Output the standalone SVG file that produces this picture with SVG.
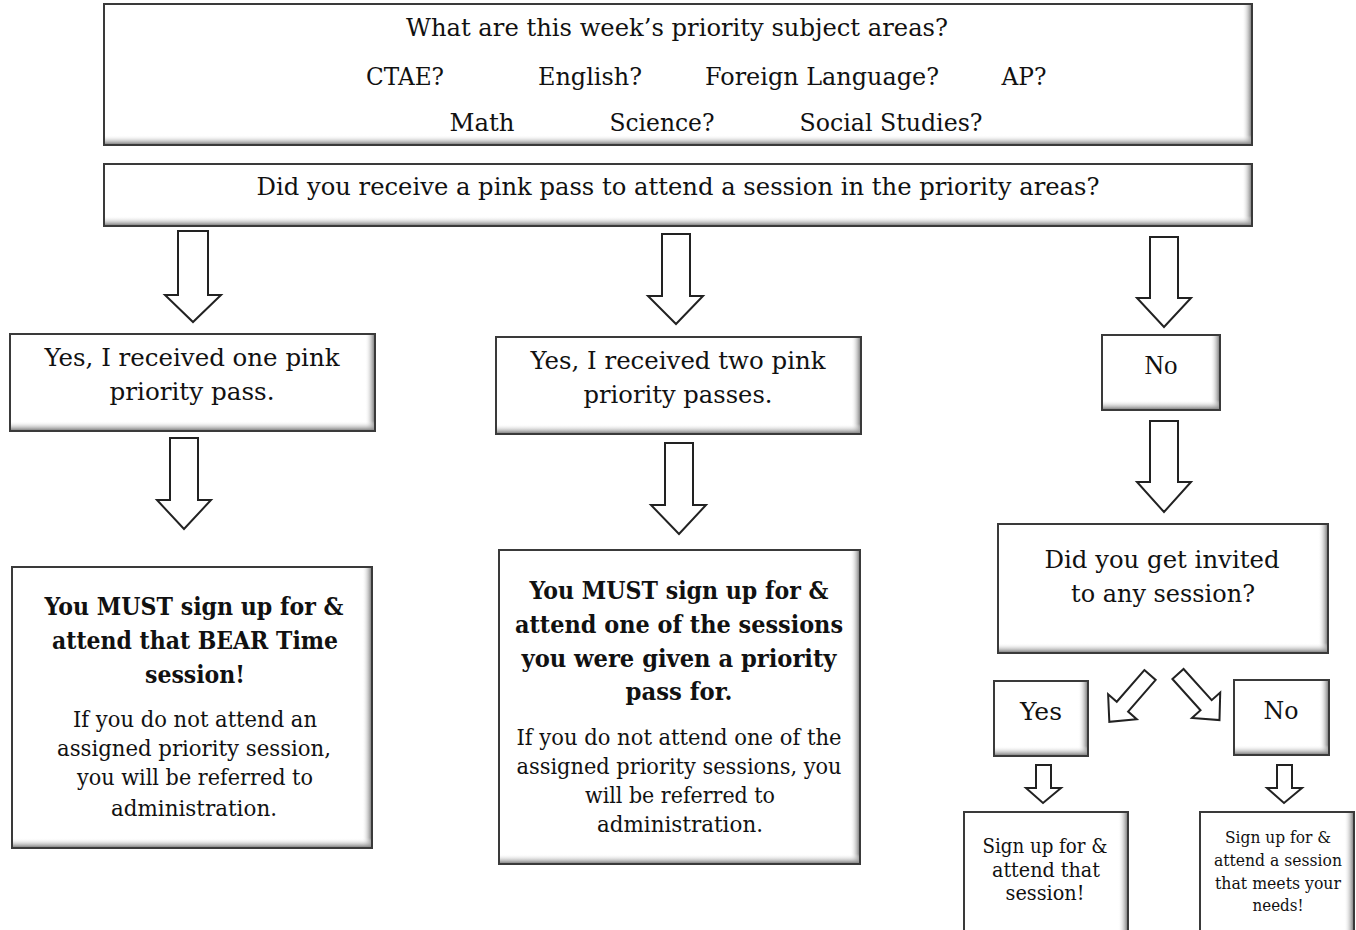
<svg xmlns="http://www.w3.org/2000/svg" width="1356" height="930" viewBox="0 0 1356 930">
<style>
.box{fill:#fff;stroke:#3a3a3a;stroke-width:2}
.t{font-family:"DejaVu Serif","Liberation Serif",serif;fill:#111;text-anchor:middle}
.b{font-weight:bold}
.tm{font-family:"Liberation Serif","Times New Roman",serif;fill:#111;text-anchor:middle}
.arr{fill:#fff;stroke:#222;stroke-width:2;stroke-linejoin:miter}
</style>
<defs>
<linearGradient id="gr" x1="0" y1="0" x2="1" y2="0">
<stop offset="0" stop-color="#fff" stop-opacity="0"/>
<stop offset="1" stop-color="#888"/>
</linearGradient>
<linearGradient id="gb" x1="0" y1="0" x2="0" y2="1">
<stop offset="0" stop-color="#fff" stop-opacity="0"/>
<stop offset="1" stop-color="#888"/>
</linearGradient>
<polygon id="darr" points="-7.5,0 7.5,0 7.5,42 19,42 0,62 -19,42 -7.5,42"/>
</defs>
<rect width="1356" height="930" fill="#fff"/>

<g id="connectors">
<polygon class="arr" points="178,231 208,231 208,295 221,295 193,322 165,295 178,295"/>
<polygon class="arr" points="170,438 198,438 198,500 211,500 184,529 157,500 170,500"/>
<polygon class="arr" points="662,234 690,234 690,296 703,296 676,324 648,296 662,296"/>
<polygon class="arr" points="665,443 693,443 693,505 706,505 679,534 651,505 665,505"/>
<polygon class="arr" points="1150,237 1178,237 1178,298 1191,298 1164,327 1137,298 1150,298"/>
<polygon class="arr" points="1150,421 1178,421 1178,482 1191,482 1164,512 1137,482 1150,482"/>
<polygon class="arr" points="1036,765 1051,765 1051,788 1061,788 1043,803 1026,788 1036,788"/>
<polygon class="arr" points="1277,765 1292,765 1292,788 1302,788 1284,803 1267,788 1277,788"/>
<use href="#darr" class="arr" transform="translate(1150,675) rotate(41)"/>
<use href="#darr" class="arr" transform="translate(1178,674) rotate(-42)"/>
</g>

<g id="n-subjects">
<rect class="box" x="104" y="4" width="1148" height="141"/>
<rect x="1242" y="5" width="9" height="139" fill="url(#gr)"/>
<rect x="105" y="135" width="1146" height="9" fill="url(#gb)"/>
<text class="t" x="677" y="36" font-size="25" textLength="542" lengthAdjust="spacingAndGlyphs">What are this week’s priority subject areas?</text>
<text class="t" x="405" y="85" font-size="25" textLength="78" lengthAdjust="spacingAndGlyphs">CTAE?</text>
<text class="t" x="590" y="85" font-size="25" textLength="104" lengthAdjust="spacingAndGlyphs">English?</text>
<text class="t" x="822" y="85" font-size="25" textLength="234" lengthAdjust="spacingAndGlyphs">Foreign Language?</text>
<text class="t" x="1024" y="85" font-size="25" textLength="45" lengthAdjust="spacingAndGlyphs">AP?</text>
<text class="t" x="482" y="131" font-size="25" textLength="65" lengthAdjust="spacingAndGlyphs">Math</text>
<text class="t" x="662" y="131" font-size="25" textLength="105" lengthAdjust="spacingAndGlyphs">Science?</text>
<text class="t" x="891" y="131" font-size="25" textLength="183" lengthAdjust="spacingAndGlyphs">Social Studies?</text>
</g>

<g id="n-pinkpass">
<rect class="box" x="104" y="164" width="1148" height="62"/>
<rect x="1242" y="165" width="9" height="60" fill="url(#gr)"/>
<rect x="105" y="216" width="1146" height="9" fill="url(#gb)"/>
<text class="t" x="678" y="195" font-size="25" textLength="843" lengthAdjust="spacingAndGlyphs">Did you receive a pink pass to attend a session in the priority areas?</text>
</g>

<g id="n-one">
<rect class="box" x="10" y="334" width="365" height="97"/>
<rect x="365" y="335" width="9" height="95" fill="url(#gr)"/>
<rect x="11" y="421" width="363" height="9" fill="url(#gb)"/>
<text class="t" x="192" y="366" font-size="25" textLength="295" lengthAdjust="spacingAndGlyphs">Yes, I received one pink</text>
<text class="t" x="192" y="400" font-size="25" textLength="165" lengthAdjust="spacingAndGlyphs">priority pass.</text>
</g>

<g id="n-two">
<rect class="box" x="496" y="337" width="365" height="97"/>
<rect x="851" y="338" width="9" height="95" fill="url(#gr)"/>
<rect x="497" y="424" width="363" height="9" fill="url(#gb)"/>
<text class="t" x="678" y="369" font-size="25" textLength="295" lengthAdjust="spacingAndGlyphs">Yes, I received two pink</text>
<text class="t" x="678" y="403" font-size="25" textLength="189" lengthAdjust="spacingAndGlyphs">priority passes.</text>
</g>

<g id="n-no">
<rect class="box" x="1102" y="335" width="118" height="75"/>
<rect x="1210" y="336" width="9" height="73" fill="url(#gr)"/>
<rect x="1103" y="400" width="116" height="9" fill="url(#gb)"/>
<text class="tm" x="1161" y="374" font-size="27">No</text>
</g>

<g id="n-must-one">
<rect class="box" x="12" y="567" width="360" height="281"/>
<rect x="362" y="568" width="9" height="279" fill="url(#gr)"/>
<rect x="13" y="838" width="358" height="9" fill="url(#gb)"/>
<text class="t b" x="194" y="615" font-size="25" textLength="299" lengthAdjust="spacingAndGlyphs">You MUST sign up for &amp;</text>
<text class="t b" x="195" y="649" font-size="25" textLength="286" lengthAdjust="spacingAndGlyphs">attend that BEAR Time</text>
<text class="t b" x="195" y="683" font-size="25" textLength="100" lengthAdjust="spacingAndGlyphs">session!</text>
<text class="t" x="195" y="727" font-size="23" textLength="244" lengthAdjust="spacingAndGlyphs">If you do not attend an</text>
<text class="t" x="194" y="756" font-size="23" textLength="274" lengthAdjust="spacingAndGlyphs">assigned priority session,</text>
<text class="t" x="195" y="785" font-size="23" textLength="236" lengthAdjust="spacingAndGlyphs">you will be referred to</text>
<text class="t" x="194" y="816" font-size="23" textLength="166" lengthAdjust="spacingAndGlyphs">administration.</text>
</g>

<g id="n-must-two">
<rect class="box" x="499" y="550" width="361" height="314"/>
<rect x="850" y="551" width="9" height="312" fill="url(#gr)"/>
<rect x="500" y="854" width="359" height="9" fill="url(#gb)"/>
<text class="t b" x="679" y="599" font-size="25" textLength="299" lengthAdjust="spacingAndGlyphs">You MUST sign up for &amp;</text>
<text class="t b" x="679" y="633" font-size="25" textLength="328" lengthAdjust="spacingAndGlyphs">attend one of the sessions</text>
<text class="t b" x="679" y="667" font-size="25" textLength="315" lengthAdjust="spacingAndGlyphs">you were given a priority</text>
<text class="t b" x="679" y="700" font-size="25" textLength="107" lengthAdjust="spacingAndGlyphs">pass for.</text>
<text class="t" x="679" y="745" font-size="23" textLength="325" lengthAdjust="spacingAndGlyphs">If you do not attend one of the</text>
<text class="t" x="679" y="774" font-size="23" textLength="325" lengthAdjust="spacingAndGlyphs">assigned priority sessions, you</text>
<text class="t" x="680" y="803" font-size="23" textLength="190" lengthAdjust="spacingAndGlyphs">will be referred to</text>
<text class="t" x="680" y="832" font-size="23" textLength="166" lengthAdjust="spacingAndGlyphs">administration.</text>
</g>

<g id="n-invited">
<rect class="box" x="998" y="524" width="330" height="129"/>
<rect x="1318" y="525" width="9" height="127" fill="url(#gr)"/>
<rect x="999" y="643" width="328" height="9" fill="url(#gb)"/>
<text class="t" x="1162" y="568" font-size="25" textLength="235" lengthAdjust="spacingAndGlyphs">Did you get invited</text>
<text class="t" x="1163" y="602" font-size="25" textLength="184" lengthAdjust="spacingAndGlyphs">to any session?</text>
</g>

<g id="n-yes">
<rect class="box" x="994" y="681" width="94" height="75"/>
<rect x="1078" y="682" width="9" height="73" fill="url(#gr)"/>
<rect x="995" y="746" width="92" height="9" fill="url(#gb)"/>
<text class="t" x="1041" y="720" font-size="25" textLength="42" lengthAdjust="spacingAndGlyphs">Yes</text>
</g>

<g id="n-no2">
<rect class="box" x="1234" y="680" width="95" height="75"/>
<rect x="1319" y="681" width="9" height="73" fill="url(#gr)"/>
<rect x="1235" y="745" width="93" height="9" fill="url(#gb)"/>
<text class="t" x="1281" y="719" font-size="25" textLength="35" lengthAdjust="spacingAndGlyphs">No</text>
</g>

<g id="n-signup-that">
<rect class="box" x="964" y="812" width="164" height="125"/>
<rect x="1118" y="813" width="9" height="120" fill="url(#gr)"/>
<text class="t" x="1045" y="853" font-size="20" textLength="125" lengthAdjust="spacingAndGlyphs">Sign up for &amp;</text>
<text class="t" x="1046" y="877" font-size="20" textLength="108" lengthAdjust="spacingAndGlyphs">attend that</text>
<text class="t" x="1045" y="900" font-size="20" textLength="79" lengthAdjust="spacingAndGlyphs">session!</text>
</g>

<g id="n-signup-needs">
<rect class="box" x="1200" y="812" width="154" height="125"/>
<rect x="1344" y="813" width="9" height="120" fill="url(#gr)"/>
<text class="t" x="1278" y="843" font-size="17" textLength="106" lengthAdjust="spacingAndGlyphs">Sign up for &amp;</text>
<text class="t" x="1278" y="866" font-size="17" textLength="128" lengthAdjust="spacingAndGlyphs">attend a session</text>
<text class="t" x="1278" y="889" font-size="17" textLength="126" lengthAdjust="spacingAndGlyphs">that meets your</text>
<text class="t" x="1278" y="911" font-size="17" textLength="51" lengthAdjust="spacingAndGlyphs">needs!</text>
</g>
</svg>
